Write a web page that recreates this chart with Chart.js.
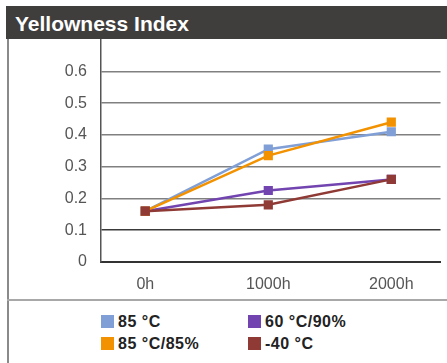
<!DOCTYPE html>
<html>
<head>
<meta charset="utf-8">
<script src="https://cdn.jsdelivr.net/npm/chart.js@4"></script>
<style>
  body { margin: 0; width: 447px; height: 363px; background: #fff; position: relative; overflow: hidden; font-family: "Liberation Sans", Arial, sans-serif; }
  #header { position: absolute; left: 6px; top: 6px; width: 441px; height: 33px; background: #3f3e3c; z-index: 2; }
  #header span { position: absolute; left: 9px; top: 6px; color: #fff; font-size: 21px; font-weight: bold; }
  #topWhite { position: absolute; left: 0; top: 0; width: 447px; height: 6px; background: #fff; z-index: 2; }
  #leftLine { position: absolute; left: 7px; top: 39px; width: 2px; height: 324px; background: #8a8a8a; z-index: 2; }
  #sepLine { position: absolute; left: 7px; top: 299px; width: 440px; height: 2px; background: #a8a8a8; z-index: 2; }
  #wrap { position: absolute; left: 0; top: 16px; width: 447px; height: 284px; }
  .leg { position: absolute; font-size: 16px; font-weight: bold; color: #222; white-space: nowrap; letter-spacing: 0.5px; }
  .leg i { position: absolute; left: 0; top: 2px; width: 13px; height: 13px; }
  .leg span { position: absolute; left: 17px; top: 0; }
</style>
</head>
<body>
<div id="topWhite"></div>
<div id="header"><span>Yellowness Index</span></div>
<div id="leftLine"></div>
<div id="sepLine"></div>
<div id="wrap"><canvas id="chart"></canvas></div>
<div id="legend"></div>
<script>
// hours on the x axis and their labels
var hours = [0, 1000, 2000];
var hourLabels = ['0h', '1000h', '2000h'];
var yTicks = [0, 0.1, 0.2, 0.3, 0.4, 0.5, 0.6];

// series values (yellowness index)
var t85 = [0.16, 0.355, 0.41];
var t85h85 = [0.16, 0.335, 0.44];
var t60h90 = [0.16, 0.225, 0.26];
var tMinus40 = [0.16, 0.18, 0.26];

var seriesNames = ['85 °C', '60 °C/90%', '85 °C/85%', '-40 °C'];
var seriesColors = ['#7f9fd6', '#7244b0', '#f39200', '#8f3a35'];
var seriesData = [t85, t60h90, t85h85, tMinus40];

// legend, 2 columns
var legend = document.getElementById('legend');
seriesNames.forEach(function(name, i) {
    var d = document.createElement('div');
    d.className = 'leg';
    d.style.left = (i % 2 === 0 ? 101 : 248) + 'px';
    d.style.top = (i < 2 ? 313 : 335) + 'px';
    d.innerHTML = '<i style="background:' + seriesColors[i] + '"></i><span>' + name + '</span>';
    legend.appendChild(d);
});

function makeSet(i) {
    return {
        label: seriesNames[i],
        data: seriesData[i].map(function(v, k) { return { x: hours[k], y: v }; }),
        borderColor: seriesColors[i],
        backgroundColor: seriesColors[i],
        borderWidth: 2.5,
        pointStyle: 'rect',
        pointRadius: 6.5,
        pointHoverRadius: 6.5,
        pointBorderWidth: 0,
        tension: 0
    };
}

// first dataset is drawn on top
var datasets = [makeSet(3), makeSet(2), makeSet(1), makeSet(0)];

var ctx = document.getElementById('chart').getContext('2d');
window.myChart = new Chart(ctx, {
    type: 'line',
    data: { datasets: datasets },
    options: {
        responsive: true,
        maintainAspectRatio: false,
        animation: false,
        events: [],
        layout: { padding: 0 },
        plugins: { legend: { display: false }, tooltip: { enabled: false } },
        scales: {
            x: {
                type: 'linear',
                min: -360,
                max: 2400,
                afterBuildTicks: function(scale) {
                    scale.ticks = hours.map(function(h) { return { value: h }; });
                },
                afterFit: function(scale) { scale.height = 38; },
                grid: { display: false, drawTicks: false },
                border: { display: true, color: '#333', width: 2 },
                ticks: {
                    padding: 13,
                    color: '#555',
                    font: { family: 'Liberation Sans', size: 16 },
                    callback: function(v) { return hourLabels[hours.indexOf(v)]; }
                }
            },
            y: {
                min: 0,
                max: 0.7,
                afterBuildTicks: function(scale) {
                    scale.ticks = yTicks.map(function(v) { return { value: v }; });
                },
                afterFit: function(scale) { scale.width = 101; },
                grid: {
                    drawTicks: false,
                    color: function(c) { return c.tick && (c.tick.value === 0.1 || c.tick.value === 0) ? '#3a3a3a' : '#808080'; },
                    lineWidth: 1.5
                },
                border: { display: true, color: '#555', width: 1.5 },
                ticks: {
                    padding: 14,
                    color: '#555',
                    font: { family: 'Liberation Sans', size: 16 },
                    callback: function(v) { return v === 0 ? '0' : v.toFixed(1); }
                }
            }
        }
    }
});
</script>
</body>
</html>
